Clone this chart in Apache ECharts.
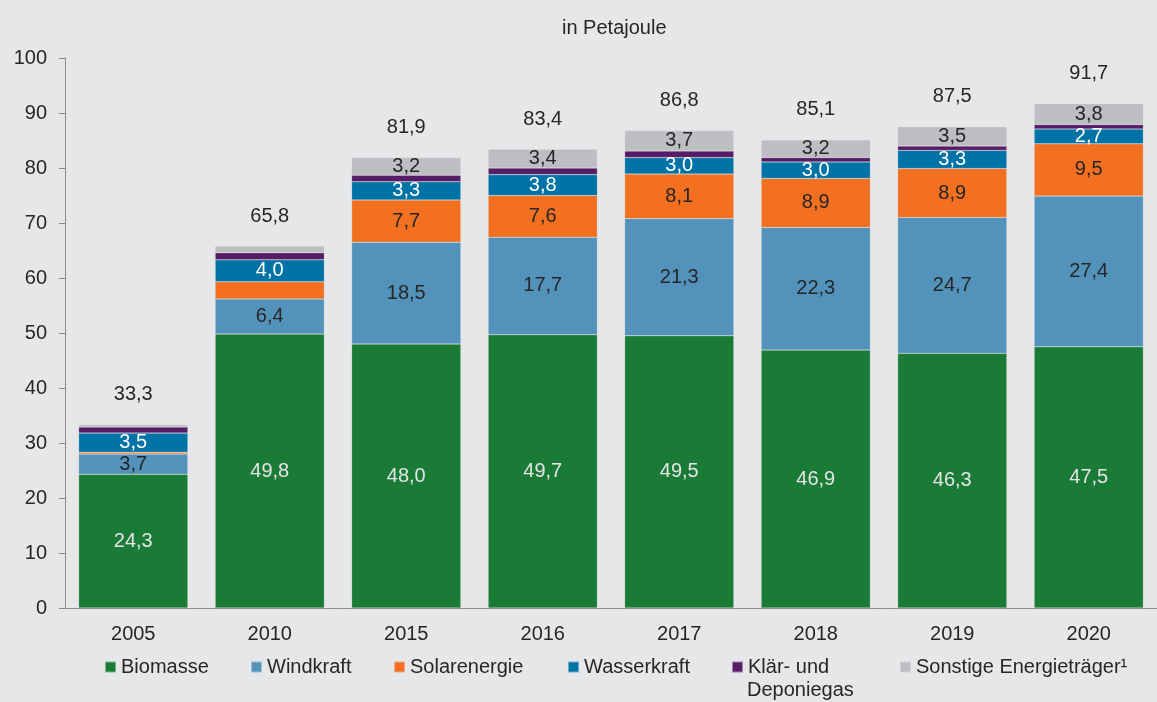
<!DOCTYPE html>
<html>
<head>
<meta charset="utf-8">
<script src="https://cdn.jsdelivr.net/npm/echarts@6/dist/echarts.min.js"></script>
<style>
    html, body {margin: 0; padding: 0; background: #e6e7e9;}
    #chart {width: 1157px; height: 702px;}
</style>
</head>
<body>
<div id="chart"></div>
<script>
var years = ['2005', '2010', '2015', '2016', '2017', '2018', '2019', '2020'];
var biomasse = [24.3, 49.8, 48.0, 49.7, 49.5, 46.9, 46.3, 47.5];
var windkraft = [3.7, 6.4, 18.5, 17.7, 21.3, 22.3, 24.7, 27.4];
var solar = [0.3, 3.1, 7.7, 7.6, 8.1, 8.9, 8.9, 9.5];
var wasser = [3.5, 4.0, 3.3, 3.8, 3.0, 3.0, 3.3, 2.7];
var klaer = [1.1, 1.3, 1.2, 1.2, 1.2, 0.8, 0.8, 0.8];
var sonstige = [0.4, 1.2, 3.2, 3.4, 3.7, 3.2, 3.5, 3.8];
var totals = [33.3, 65.8, 81.9, 83.4, 86.8, 85.1, 87.5, 91.7];

var FONT = 'Liberation Sans';

function fmt(v) {
    return v.toFixed(1).replace('.', ',');
}

// Segment laut Vorlage nur ab einer Mindesthoehe beschriften
function segLabel(color, minVal) {
    return {
        show: true,
        position: 'inside',
        color: color,
        fontFamily: FONT,
        fontSize: 20,
        formatter: function (p) {
            return p.value >= minVal ? fmt(p.value) : '';
        }
    };
}

function barSeries(name, data, color, label) {
    return {
        name: name,
        type: 'bar',
        stack: 'pj',
        barWidth: '80%',
        data: data,
        itemStyle: {color: color, borderColor: 'rgba(230,231,233,0.5)', borderWidth: 0.5},
        label: label
    };
}

function legendItem(name, left, color) {
    return {
        data: [name],
        left: left,
        top: 657,
        padding: 0,
        icon: 'rect',
        itemWidth: 11,
        itemHeight: 11,
        selectedMode: false,
        textStyle: {color: '#262626', fontFamily: FONT, fontSize: 20},
        formatter: name === 'Klär- und Deponiegas' ? 'Klär- und' : '{name}'
    };
}

var myChart = echarts.init(document.getElementById('chart'));

var option = {
    backgroundColor: '#e6e7e9',
    animation: false,
    title: {
        text: 'in Petajoule',
        left: 557,
        top: 13,
        textStyle: {color: '#262626', fontFamily: FONT, fontSize: 20, fontWeight: 'normal'}
    },
    legend: [
        legendItem('Biomasse', 104),
        legendItem('Windkraft', 250),
        legendItem('Solarenergie', 393),
        legendItem('Wasserkraft', 567),
        legendItem('Klär- und Deponiegas', 731),
        legendItem('Sonstige Energieträger¹', 899)
    ],
    graphic: [{
        type: 'text',
        left: 747,
        top: 680,
        style: {text: 'Deponiegas', fill: '#262626', font: '20px "Liberation Sans"'}
    }],
    grid: {left: 65, right: -10, top: 58, bottom: 94},
    xAxis: {
        type: 'category',
        data: years,
        axisLine: {lineStyle: {color: '#8a8a8a'}},
        axisTick: {length: 6, lineStyle: {color: '#8a8a8a'}},
        axisLabel: {color: '#262626', fontFamily: FONT, fontSize: 20, margin: 16}
    },
    yAxis: {
        type: 'value',
        min: 0,
        max: 100,
        interval: 10,
        axisLine: {show: true, lineStyle: {color: '#8a8a8a'}},
        axisTick: {show: true, length: 6, lineStyle: {color: '#8a8a8a'}},
        splitLine: {show: false},
        axisLabel: {color: '#262626', fontFamily: FONT, fontSize: 20, margin: 18}
    },
    series: [
        barSeries('Biomasse', biomasse, '#1a7b37', segLabel('#e4e4e4', 5)),
        barSeries('Windkraft', windkraft, '#5393bb', segLabel('#262626', 2.5)),
        barSeries('Solarenergie', solar, '#f37021', segLabel('#262626', 5)),
        barSeries('Wasserkraft', wasser, '#0073a6', segLabel('#ffffff', 2.5)),
        barSeries('Klär- und Deponiegas', klaer, '#561c65', {show: false}),
        barSeries('Sonstige Energieträger¹', sonstige, '#bdbec2', segLabel('#262626', 2.5)),
        {
            name: 'Summe',
            type: 'line',
            data: totals,
            symbol: 'circle',
            symbolSize: 0.1,
            itemStyle: {color: 'transparent'},
            lineStyle: {opacity: 0},
            label: {
                show: true,
                position: 'top',
                distance: 20,
                color: '#262626',
                fontFamily: FONT,
                fontSize: 20,
                formatter: function (p) {
                    return fmt(p.value);
                }
            },
            z: 5
        }
    ]
};

myChart.setOption(option);
window.addEventListener('resize', function () {
    myChart.resize();
});
</script>
</body>
</html>
